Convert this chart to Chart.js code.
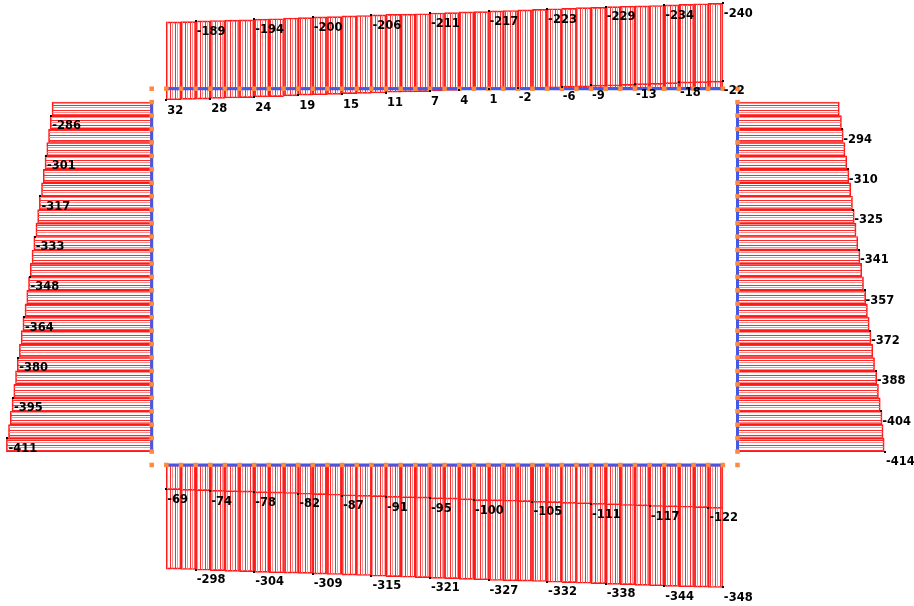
<!DOCTYPE html>
<html>
<head>
<meta charset="utf-8">
<script src="https://cdn.jsdelivr.net/npm/chart.js@4/dist/chart.umd.min.js"></script>
<style>
  body { margin: 0; background: #fff; }
  #wrap { position: relative; width: 914px; height: 606px; }
  #wrap canvas { position: absolute; left: 0; top: 0; }
</style>
</head>
<body>
<div id="wrap">
  <canvas id="top" width="914" height="606"></canvas>
  <canvas id="bottom" width="914" height="606"></canvas>
  <canvas id="left" width="914" height="606"></canvas>
  <canvas id="right" width="914" height="606"></canvas>
</div>
<script>
// element values along each member (one per element)
const topOuter = [-187,-188,-190,-191,-192,-193,-195,-196,-198,-199,-201,-202,-204,-205,-207,-208,-209,-210,-212,-213,
  -215,-216,-218,-219,-221,-222,-224,-225,-227,-228,-230,-231,-232,-233,-235,-236,-238,-239];
const topInner = [31,30,29,27,26,25,23,22,20,18,17,16,14,13,12,10,9,8,6,5,
  3,2,0,-1,-3,-4,-5,-7,-8,-10,-11,-12,-14,-15,-17,-19,-20,-21];
const bottomInner = [-70,-72,-73,-75,-76,-77,-79,-80,-81,-83,-84,-86,-88,-89,-90,-92,-93,-94,-96,-97,
  -99,-101,-102,-103,-104,-106,-107,-109,-110,-112,-113,-115,-116,-118,-119,-120,-121,-123];
const bottomOuter = [-296,-297,-299,-300,-302,-303,-305,-306,-307,-308,-310,-311,-313,-314,-316,-317,-319,-320,-322,-323,
  -325,-326,-328,-329,-330,-331,-333,-334,-336,-337,-339,-340,-342,-343,-345,-346,-347,-348];
const leftOuter = [-284,-289,-294,-299,-304,-309,-314,-320,-325,-330,-336,-341,-346,-351,-356,-361,-367,-372,-377,-383,
  -388,-393,-398,-403,-408,-414];
const rightOuter = [-286,-292,-297,-302,-307,-313,-318,-323,-328,-333,-338,-344,-349,-354,-360,-365,-370,-375,-380,-385,
  -391,-396,-401,-406,-409,-412];

// labelled node values
const topOuterNodes = [2,6,10,14,18,22,26,30,34,38];
const topOuterLabels = [-189,-194,-200,-206,-211,-217,-223,-229,-234,-240];
const topInnerNodes = [0,3,6,9,12,15,18,20,22,24,27,29,32,35,38];
const topInnerLabels = [32,28,24,19,15,11,7,4,1,-2,-6,-9,-13,-18,-22];
const bottomInnerNodes = [0,3,6,9,12,15,18,21,25,29,33,37];
const bottomInnerLabels = [-69,-74,-78,-82,-87,-91,-95,-100,-105,-111,-117,-122];
const bottomOuterNodes = [2,6,10,14,18,22,26,30,34,38];
const bottomOuterLabels = [-298,-304,-309,-315,-321,-327,-332,-338,-344,-348];
const leftNodes = [1,4,7,10,13,16,19,22,25];
const leftLabels = [-286,-301,-317,-333,-348,-364,-380,-395,-411];
const rightNodes = [2,5,8,11,14,17,20,23,26];
const rightLabels = [-294,-310,-325,-341,-357,-372,-388,-404,-414];

// layout
const W = 914, H = 606;
const X0 = 151.7, DX = 14.645;   // horizontal members: corner = node -1
const Y0 = 88.7, DY = 13.44;     // vertical members: corner = node -1
const TOP_Y = 88.7, BOT_Y = 465, LEFT_X = 151.7, RIGHT_X = 737.5;
const sTop = 0.357, sBot = 0.352, sLeft = 0.351, sRight = 0.356;   // px per unit

const RED = '#ff1a1a', BLUE = '#4458e6', ORANGE = '#ff8a3d';

function stripes(vertical) {
  const c = document.createElement('canvas');
  c.width = 5; c.height = 5;
  const g = c.getContext('2d');
  g.fillStyle = '#ff2a2a';
  vertical ? g.fillRect(0, 0, 1, 5) : g.fillRect(0, 0, 5, 1);
  g.fillStyle = '#ff9090';
  vertical ? g.fillRect(2, 0, 1, 5) : g.fillRect(0, 2, 5, 1);
  return g.createPattern(c, 'repeat');
}
const vHatch = stripes(true), hHatch = stripes(false);

const nodeLabels = {
  id: 'nodeLabels',
  afterDatasetsDraw(chart, args, opts) {
    const ctx = chart.ctx;
    const ns = chart.scales[opts.nodeAxis];
    const vs = chart.scales[opts.nodeAxis === 'x' ? 'y' : 'x'];
    ctx.save();
    ctx.font = 'bold 11.5px "DejaVu Sans"';
    ctx.fillStyle = '#000';
    ctx.textAlign = 'left';
    ctx.textBaseline = 'middle';
    opts.sets.forEach(s => {
      s.nodes.forEach((n, i) => {
        const a = ns.getPixelForValue(n), b = vs.getPixelForValue(s.values[i]);
        const x = opts.nodeAxis === 'x' ? a : b;
        const y = opts.nodeAxis === 'x' ? b : a;
        ctx.fillRect(Math.round(x) - 1, Math.round(y) - 1, 2, 2);
        ctx.fillText(String(s.values[i]), x + 1, y + 10.5);
      });
    });
    ctx.restore();
  }
};

const hNodeScale = { type: 'linear', display: false, offset: false, min: -X0 / DX - 1, max: (W - X0) / DX - 1, ticks: { stepSize: 1000 } };
const vNodeScale = { type: 'linear', display: false, offset: false, reverse: true, min: -Y0 / DY - 1, max: (H - Y0) / DY - 1, ticks: { stepSize: 1000 } };

function barSet(values, horizontal, order) {
  return {
    order: order,
    grouped: false,
    barPercentage: 1,
    categoryPercentage: 1,
    backgroundColor: horizontal ? hHatch : vHatch,
    borderColor: RED,
    borderWidth: 1,
    borderSkipped: false,
    data: values.map((v, i) => horizontal ? { y: i + 0.5, x: [0, v] } : { x: i + 0.5, y: [0, v] })
  };
}

function frameSet(count, horizontal) {
  const nodes = Array.from({ length: count + 1 }, (_, k) => k);
  return {
    type: 'line', order: 0,
    data: nodes.map(k => horizontal ? { x: 0, y: k } : { x: k, y: 0 }),
    borderColor: BLUE, borderWidth: 3,
    pointStyle: 'rect', pointRadius: 3.2, pointBorderWidth: 0,
    pointBackgroundColor: ORANGE
  };
}

function cornerSet(count) {
  return {
    type: 'line', order: 0, showLine: false,
    data: [{ x: -1, y: 0 }, { x: count + 1, y: 0 }],
    pointStyle: 'rect', pointRadius: 3.2, pointBorderWidth: 0,
    pointBackgroundColor: ORANGE
  };
}

function makeChart(id, datasets, scales, indexAxis, labelSets) {
  new Chart(document.getElementById(id), {
    type: 'bar',
    data: { datasets: datasets },
    options: {
      responsive: false,
      animation: false,
      events: [],
      indexAxis: indexAxis,
      layout: { padding: 0, autoPadding: false },
      scales: scales,
      plugins: {
        legend: { display: false },
        tooltip: { enabled: false },
        nodeLabels: { nodeAxis: indexAxis, sets: labelSets }
      }
    },
    plugins: [nodeLabels]
  });
}

makeChart('top',
  [frameSet(topOuter.length, false), cornerSet(topOuter.length), barSet(topInner, false, 1), barSet(topOuter, false, 2)],
  { x: hNodeScale, y: { type: 'linear', display: false, reverse: true, min: -TOP_Y / sTop, max: (H - TOP_Y) / sTop } },
  'x',
  [{ nodes: topOuterNodes, values: topOuterLabels }, { nodes: topInnerNodes, values: topInnerLabels }]);

makeChart('bottom',
  [frameSet(bottomOuter.length, false), cornerSet(bottomOuter.length), barSet(bottomInner, false, 1), barSet(bottomOuter, false, 2)],
  { x: hNodeScale, y: { type: 'linear', display: false, min: (BOT_Y - H) / sBot, max: BOT_Y / sBot } },
  'x',
  [{ nodes: bottomInnerNodes, values: bottomInnerLabels }, { nodes: bottomOuterNodes, values: bottomOuterLabels }]);

makeChart('left',
  [frameSet(leftOuter.length, true), barSet(leftOuter, true, 2)],
  { y: vNodeScale, x: { type: 'linear', display: false, min: -LEFT_X / sLeft, max: (W - LEFT_X) / sLeft } },
  'y',
  [{ nodes: leftNodes, values: leftLabels }]);

makeChart('right',
  [frameSet(rightOuter.length, true), barSet(rightOuter, true, 2)],
  { y: vNodeScale, x: { type: 'linear', display: false, reverse: true, min: -(W - RIGHT_X) / sRight, max: RIGHT_X / sRight } },
  'y',
  [{ nodes: rightNodes, values: rightLabels }]);
</script>
</body>
</html>
